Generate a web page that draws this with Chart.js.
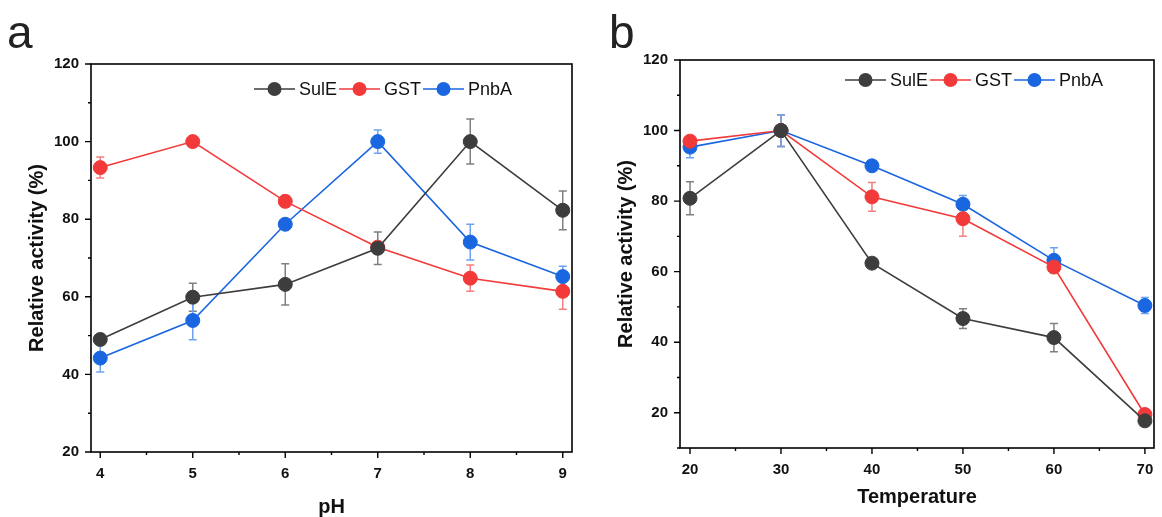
<!DOCTYPE html>
<html>
<head>
<meta charset="utf-8">
<script src="https://cdn.jsdelivr.net/npm/chart.js@4"></script>
<style>
  html, body { margin: 0; padding: 0; background: #fff; }
  #wrap { position: relative; width: 1162px; height: 517px; overflow: hidden; }
  .panel { position: absolute; top: 0; height: 517px; }
  #panelA { left: 0; width: 580px; }
  #panelB { left: 580px; width: 582px; }
  .tag { position: absolute; font-family: 'Liberation Sans', Arial, sans-serif; font-size: 46px; color: #222; line-height: 1; }
</style>
</head>
<body>
<div id="wrap">
  <div class="panel" id="panelA"><canvas id="chartA" width="580" height="517"></canvas></div>
  <div class="panel" id="panelB"><canvas id="chartB" width="582" height="517"></canvas></div>
  <div class="tag" style="left:7px; top:9px;">a</div>
  <div class="tag" style="left:609px; top:9px;">b</div>
</div>
<script>
// ============================================
// Data
// ============================================

const seriesNames = ['SulE', 'GST', 'PnbA'];

// Panel a - pH
const phValues = [4, 5, 6, 7, 8, 9];
const phSulE = [49.0, 59.9, 63.2, 72.5, 100, 82.3];
const phSulEErr = [1.0, 3.6, 5.3, 4.2, 5.8, 5.0];
const phGST = [93.3, 100, 84.6, 72.8, 64.8, 61.4];
const phGSTErr = [2.7, 0.5, 1.5, 1.0, 3.4, 4.6];
const phPnbA = [44.2, 53.9, 78.7, 100, 74.1, 65.2];
const phPnbAErr = [3.6, 5.0, 1.0, 3.0, 4.6, 2.7];
const phYTicks = [20, 40, 60, 80, 100, 120];

// Panel b - Temperature
const tempValues = [20, 30, 40, 50, 60, 70];
const tempSulE = [80.8, 100, 62.4, 46.7, 41.3, 17.7];
const tempSulEErr = [4.7, 4.5, 0.6, 2.8, 4.0, 1.0];
const tempGST = [97.0, 100, 81.2, 75.0, 61.3, 19.5];
const tempGSTErr = [1.0, 4.5, 4.1, 5.0, 1.5, 1.0];
const tempPnbA = [95.3, 100, 90.0, 79.1, 63.2, 50.4];
const tempPnbAErr = [3.0, 4.5, 1.0, 2.5, 3.6, 2.3];
const tempYTicks = [20, 40, 60, 80, 100, 120];

// ============================================
// Styling
// ============================================

const FONT = "'Liberation Sans', Arial, sans-serif";
const lineColors = ['#3d3d3d', '#f23a3a', '#1a66e0'];
const errColors = ['#808080', '#f38080', '#6fa3f0'];

// ============================================
// Plugins
// ============================================

// error bars drawn behind the points, through the chart's own scales
const errorBarPlugin = {
    id: 'errorBars',
    beforeDatasetsDraw(chart) {
        const ctx = chart.ctx;
        const xs = chart.scales.x, ys = chart.scales.y;
        ctx.save();
        chart.data.datasets.forEach((ds, i) => {
            ctx.strokeStyle = errColors[i];
            ctx.lineWidth = 1.5;
            ds.data.forEach((p, j) => {
                const e = ds.errors[j];
                const px = xs.getPixelForValue(p.x);
                const top = ys.getPixelForValue(p.y + e);
                const bot = ys.getPixelForValue(p.y - e);
                ctx.beginPath();
                ctx.moveTo(px, top); ctx.lineTo(px, bot);
                ctx.moveTo(px - 4, top); ctx.lineTo(px + 4, top);
                ctx.moveTo(px - 4, bot); ctx.lineTo(px + 4, bot);
                ctx.stroke();
            });
        });
        ctx.restore();
    }
};

// frame, tick marks (major long, minor short) and the line+marker legend
const framePlugin = {
    id: 'frame',
    afterDraw(chart, args, opts) {
        const ctx = chart.ctx;
        const a = chart.chartArea;
        const xs = chart.scales.x, ys = chart.scales.y;
        ctx.save();
        ctx.strokeStyle = '#000';
        ctx.lineWidth = 1.6;
        ctx.strokeRect(a.left, a.top, a.right - a.left, a.bottom - a.top);

        ctx.lineWidth = 1.4;
        ctx.beginPath();
        xs.ticks.forEach(t => {
            const px = xs.getPixelForValue(t.value);
            const len = opts.xMajor.includes(t.value) ? 6 : 3;
            ctx.moveTo(px, a.bottom); ctx.lineTo(px, a.bottom + len);
        });
        ys.ticks.forEach(t => {
            const py = ys.getPixelForValue(t.value);
            const len = opts.yMajor.includes(t.value) ? 6 : 3;
            ctx.moveTo(a.left, py); ctx.lineTo(a.left - len, py);
        });
        ctx.stroke();

        // legend
        ctx.font = '18px ' + FONT;
        ctx.textBaseline = 'middle';
        let x = opts.legendX;
        const y = opts.legendY;
        seriesNames.forEach((name, i) => {
            ctx.strokeStyle = lineColors[i];
            ctx.lineWidth = 1.5;
            ctx.beginPath();
            ctx.moveTo(x, y); ctx.lineTo(x + 41, y);
            ctx.stroke();
            ctx.fillStyle = lineColors[i];
            ctx.beginPath();
            ctx.arc(x + 20.5, y, 7, 0, Math.PI * 2);
            ctx.fill();
            x += 45;
            ctx.fillStyle = '#111';
            ctx.fillText(name, x, y + 1);
            x += ctx.measureText(name).width + 2;
        });
        ctx.restore();
    }
};

// ============================================
// Chart builder
// ============================================

function buildPanel(canvasId, cfg) {
    const ctx = document.getElementById(canvasId).getContext('2d');
    const seriesY = [cfg.sulE, cfg.gst, cfg.pnbA];
    const seriesE = [cfg.sulEErr, cfg.gstErr, cfg.pnbAErr];

    const datasets = seriesNames.map((name, i) => ({
        label: name,
        data: cfg.xValues.map((xv, j) => ({ x: xv, y: seriesY[i][j] })),
        errors: seriesE[i],
        borderColor: lineColors[i],
        backgroundColor: lineColors[i],
        pointBackgroundColor: lineColors[i],
        pointBorderColor: lineColors[i],
        borderWidth: 1.6,
        pointRadius: 7,
        pointBorderWidth: 1,
        tension: 0
    }));

    // minor x ticks halfway between the categories
    const xTicks = [];
    cfg.xValues.forEach((v, j) => {
        xTicks.push(v);
        if (j < cfg.xValues.length - 1) xTicks.push((v + cfg.xValues[j + 1]) / 2);
    });
    // minor y ticks halfway between the labelled ones
    const yTicks = [];
    if (cfg.yMin < cfg.yTicks[0]) yTicks.push(cfg.yMin);
    cfg.yTicks.forEach((v, j) => {
        yTicks.push(v);
        if (j < cfg.yTicks.length - 1) yTicks.push((v + cfg.yTicks[j + 1]) / 2);
    });

    new Chart(ctx, {
        type: 'line',
        data: { datasets: datasets },
        options: {
            responsive: false,
            animation: false,
            layout: { padding: { left: 0, right: cfg.padRight, top: cfg.padTop, bottom: 0 } },
            plugins: {
                legend: { display: false },
                tooltip: { enabled: false },
                frame: {
                    xMajor: cfg.xValues,
                    yMajor: cfg.yTicks,
                    legendX: cfg.legendX,
                    legendY: cfg.legendY
                }
            },
            scales: {
                x: {
                    type: 'linear',
                    min: cfg.xMin,
                    max: cfg.xMax,
                    afterBuildTicks: s => { s.ticks = xTicks.map(v => ({ value: v })); },
                    afterFit: s => { s.height = cfg.xAxisHeight; },
                    grid: { display: true, drawOnChartArea: false, drawTicks: true, tickLength: 6, tickColor: 'rgba(0,0,0,0)' },
                    border: { display: false },
                    ticks: {
                        padding: 7,
                        color: '#111',
                        maxRotation: 0,
                        autoSkip: false,
                        font: { family: FONT, size: 15, weight: 'bold' },
                        callback: v => cfg.xValues.includes(v) ? String(v) : ''
                    },
                    title: {
                        display: true,
                        text: cfg.xTitle,
                        color: '#111',
                        font: { family: FONT, size: 20, weight: 'bold', lineHeight: 1 },
                        padding: { top: 0, bottom: cfg.xTitlePad }
                    }
                },
                y: {
                    min: cfg.yMin,
                    max: cfg.yMax,
                    afterBuildTicks: s => { s.ticks = yTicks.map(v => ({ value: v })); },
                    afterFit: s => { s.width = cfg.yAxisWidth; },
                    grid: { display: true, drawOnChartArea: false, drawTicks: true, tickLength: 6, tickColor: 'rgba(0,0,0,0)' },
                    border: { display: false },
                    ticks: {
                        padding: 6,
                        color: '#111',
                        autoSkip: false,
                        font: { family: FONT, size: 15, weight: 'bold' },
                        callback: v => cfg.yTicks.includes(v) ? String(v) : ''
                    },
                    title: {
                        display: true,
                        text: 'Relative activity (%)',
                        color: '#111',
                        font: { family: FONT, size: 20, weight: 'bold', lineHeight: 1 },
                        padding: { top: cfg.yTitlePad, bottom: 0 }
                    }
                }
            }
        },
        plugins: [errorBarPlugin, framePlugin]
    });
}

document.addEventListener('DOMContentLoaded', function() {
    buildPanel('chartA', {
        xValues: phValues, sulE: phSulE, sulEErr: phSulEErr,
        gst: phGST, gstErr: phGSTErr, pnbA: phPnbA, pnbAErr: phPnbAErr,
        yTicks: phYTicks, yMin: 20, yMax: 120, xMin: 3.9, xMax: 9.1,
        xTitle: 'pH', padTop: 64, padRight: 8,
        xAxisHeight: 65, yAxisWidth: 91, xTitlePad: 0, yTitlePad: 27,
        legendX: 254, legendY: 89
    });
    buildPanel('chartB', {
        xValues: tempValues, sulE: tempSulE, sulEErr: tempSulEErr,
        gst: tempGST, gstErr: tempGSTErr, pnbA: tempPnbA, pnbAErr: tempPnbAErr,
        yTicks: tempYTicks, yMin: 10, yMax: 120, xMin: 18.9, xMax: 71.0,
        xTitle: 'Temperature', padTop: 60, padRight: 1,
        xAxisHeight: 69, yAxisWidth: 100, xTitlePad: 10, yTitlePad: 36,
        legendX: 265, legendY: 80
    });
});
</script>
</body>
</html>
